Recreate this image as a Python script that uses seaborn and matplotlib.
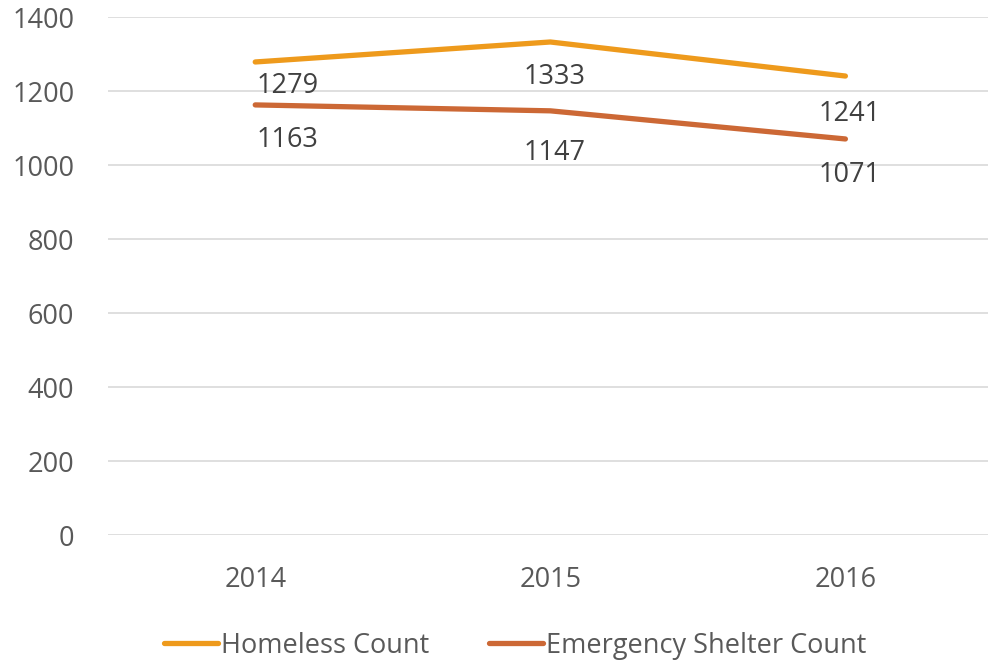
import matplotlib
matplotlib.use("Agg")
import matplotlib.pyplot as plt
import seaborn as sns
import pandas as pd

years = ["2014", "2015", "2016"]
homeless = [1279, 1333, 1241]
shelter = [1163, 1147, 1071]
series_names = ["Homeless Count", "Emergency Shelter Count"]
yticks = [0, 200, 400, 600, 800, 1000, 1200, 1400]

df = pd.DataFrame({
    "Year": years * 2,
    "pos": list(range(len(years))) * 2,
    "Count": homeless + shelter,
    "Series": [series_names[0]] * 3 + [series_names[1]] * 3,
})

sns.set_theme(style="white")
plt.rcParams["font.family"] = ["Open Sans", "DejaVu Sans"]
txt = "#595959"
fs = 19.5

fig = plt.figure(figsize=(9.88, 6.61), dpi=100)
ax = fig.add_axes([0.109, 0.19, 0.896, 0.784])
palette = {series_names[0]: "#EE9A1C", series_names[1]: "#CC6835"}
sns.lineplot(data=df, x="pos", y="Count", hue="Series", palette=palette,
             linewidth=3.8, ax=ax, legend=True, solid_capstyle="round")

ax.set_xlim(-0.5, 2.5)
ax.set_ylim(0, 1400)
ax.set_yticks(yticks)
ax.set_yticklabels([str(v) for v in yticks])
ax.set_xticks(range(len(years)))
ax.set_xticklabels(years)
ax.tick_params(axis="both", colors=txt, labelsize=fs, length=0)
ax.tick_params(axis="y", pad=24)
ax.tick_params(axis="x", pad=22)
ax.yaxis.grid(True, color="#D9D9D9", linewidth=1.2)
for s in ax.spines.values():
    s.set_visible(False)
ax.set_xlabel("")
ax.set_ylabel("")

label_offsets = [[-17, -25, -27], [-25, -30, -26]]
for vals, offs in zip((homeless, shelter), label_offsets):
    for i, v in enumerate(vals):
        ha = "left" if i == 0 else "center"
        dx = 1 if i == 0 else 3
        ax.annotate(str(v), (i, v), xytext=(dx, offs[i]), textcoords="offset points",
                    ha=ha, va="center", fontsize=fs, color="#404040")

handles, labels = ax.get_legend_handles_labels()
ax.legend(handles, labels, loc="lower center", bbox_to_anchor=(0.46, -0.287),
          ncol=2, frameon=False, fontsize=fs, labelcolor=txt,
          handlelength=2.0, handletextpad=0.1, columnspacing=2.2)

fig.savefig("out.png", dpi=100)
